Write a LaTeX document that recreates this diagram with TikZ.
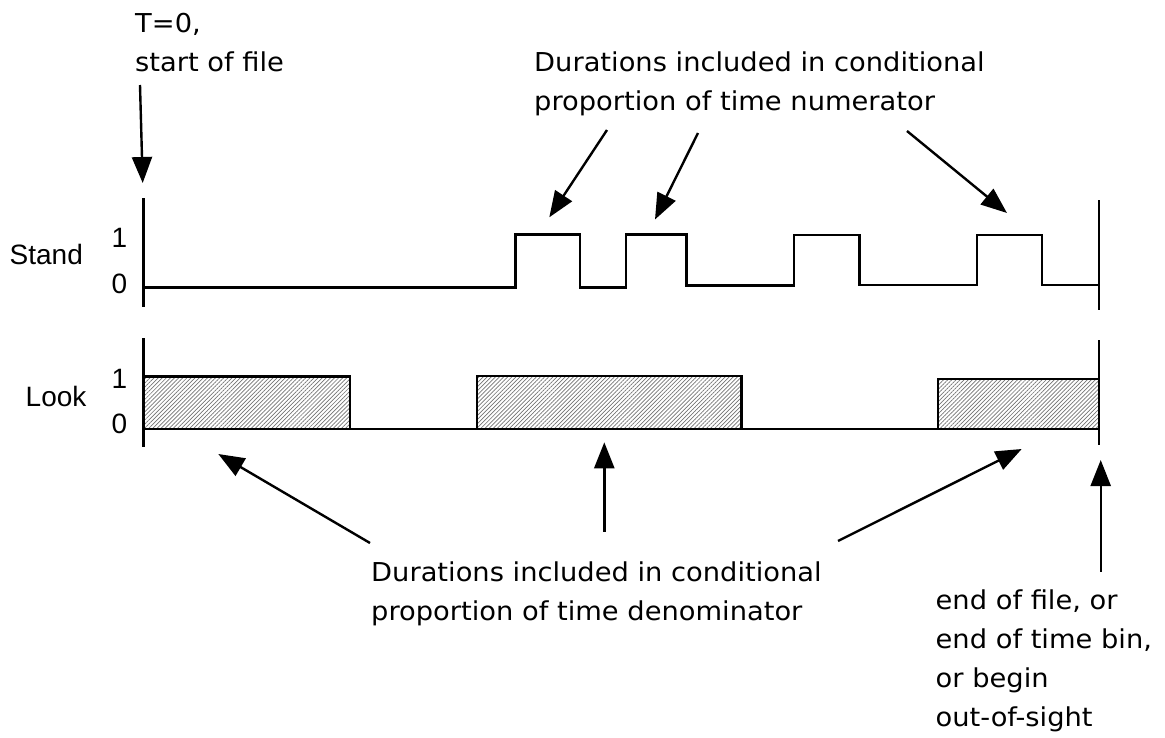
\documentclass[tikz,border=0pt]{standalone}
\usepackage{fontspec}
\usetikzlibrary{arrows.meta,patterns.meta}
\newfontfamily\notefont[FakeStretch=1.05]{DejaVu Sans}
\newfontfamily\axisfont{Liberation Sans}

\begin{document}
\begin{tikzpicture}[x=1pt,y=-1pt,
  wave/.style={line width=2.5pt, line join=miter},
  axisline/.style={line width=2.5pt},
  pointer/.style={line width=2.4pt, -{Triangle[length=26pt,width=20pt]}},
  % multi-line notes are anchored at the baseline of their last line
  note/.style={font=\notefont\fontsize{26}{39}\selectfont, align=left, inner sep=0pt, anchor=base west},
  lbl/.style={font=\axisfont\fontsize{28}{30}\selectfont, inner sep=0pt},
  hatched/.style={pattern={Lines[angle=45,distance=2.9pt,line width=0.7pt]}, pattern color=black!55}
]
\useasboundingbox (0,0) rectangle (1165,737);

% ---- channel labels ----
\node[lbl, anchor=base west] (standlbl) at (9.5,264) {Stand};
\node[lbl, anchor=base east] (stand1) at (127.5,247) {1};
\node[lbl, anchor=base east] (stand0) at (127.5,293) {0};
\node[lbl, anchor=base west] (looklbl) at (25.5,406.7) {Look};
\node[lbl, anchor=base east] (look1) at (127.5,388.5) {1};
\node[lbl, anchor=base east] (look0) at (127.5,433.5) {0};

% ---- time axes (start and end markers) ----
\draw[axisline] (143.5,198) -- (143.5,307);
\draw[axisline] (143.5,338) -- (143.5,447);
\draw[axisline] (1099,200) -- (1099,310);
\draw[axisline] (1099,340) -- (1099,445);

% ---- Stand signal ----
\draw[wave] (143.5,287.5) -- (515.7,287.5) -- (515.7,234.5) -- (580,234.5)
  -- (580,287.5) -- (626,287.5) -- (626,234.5) -- (686.7,234.5)
  -- (686.7,285.5) -- (794,285.5) -- (794,235) -- (859.3,235)
  -- (859.3,285) -- (977,285) -- (977,235) -- (1042,235)
  -- (1042,285) -- (1099,285);

% ---- Look signal: hatched "on" periods ----
\fill[hatched] (143.5,376.5) rectangle (350,429);
\fill[hatched] (477,376) rectangle (741.5,429);
\fill[hatched] (938,379) rectangle (1099,429);
\draw[wave] (143.5,429) -- (1099,429);
\draw[wave] (143.5,376.5) rectangle (350,429);
\draw[wave] (477,376) rectangle (741.5,429);
\draw[wave] (938,379) rectangle (1099,429);

% ---- annotations ----
\node[note] (start) at (135,71.7) {T=0,\\start of file};
\node[note] (numer) at (534,110.5) {Durations included in conditional\\proportion of time numerator};
\node[note] (denom) at (371,620.5) {Durations included in conditional\\proportion of time denominator};
\node[note] (finish) at (935.5,726.5) {end of file, or\\end of time bin,\\or begin\\out-of-sight};

% ---- arrow end points ----
\coordinate (t0a) at (140,85);      \coordinate (t0b) at (142.7,183);
\coordinate (n1a) at (607,130);     \coordinate (n1b) at (549.3,217.3);
\coordinate (n2a) at (698,133);     \coordinate (n2b) at (655,219.5);
\coordinate (n3a) at (907,131);     \coordinate (n3b) at (1007,213);
\coordinate (d1a) at (370,543);     \coordinate (d1b) at (218.3,454);
\coordinate (d2a) at (604.3,531.7); \coordinate (d2b) at (604.3,442.3);
\coordinate (d3a) at (838,541);     \coordinate (d3b) at (1021.7,449);
\coordinate (e1a) at (1100.7,571.7);\coordinate (e1b) at (1100.7,460);

\draw[pointer] (t0a) -- (t0b);
\draw[pointer] (n1a) -- (n1b);
\draw[pointer] (n2a) -- (n2b);
\draw[pointer] (n3a) -- (n3b);
\draw[pointer] (d1a) -- (d1b);
\draw[pointer] (d2a) -- (d2b);
\draw[pointer] (d3a) -- (d3b);
\draw[pointer] (e1a) -- (e1b);
\end{tikzpicture}
\end{document}
